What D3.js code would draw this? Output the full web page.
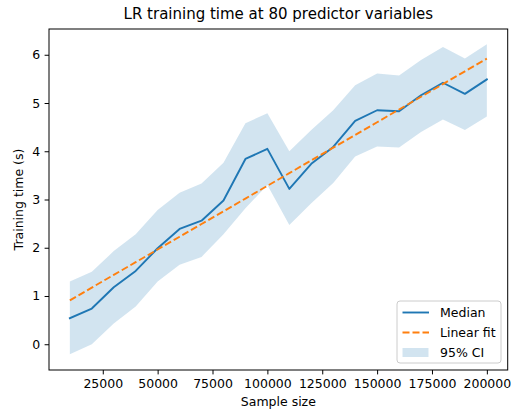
<!DOCTYPE html>
<html>
<head>
<meta charset="utf-8">
<script src="https://cdn.jsdelivr.net/npm/d3@7"></script>
<style>
  html, body { margin: 0; padding: 0; background: #fff; }
  svg { display: block; font-family: "DejaVu Sans", sans-serif; }
</style>
</head>
<body>
<svg id="chart" width="516" height="413"></svg>
<script>
// Sample sizes used in the benchmark
const sampleSizes = [10000, 20000, 30000, 40000, 50000, 60000, 70000, 80000, 90000, 100000,
                     110000, 120000, 130000, 140000, 150000, 160000, 170000, 180000, 190000, 200000];
// Median training time (s) across runs
const medianTime = [0.54, 0.74, 1.18, 1.52, 1.99, 2.39, 2.56, 2.98, 3.84, 4.05,
                    3.22, 3.74, 4.09, 4.63, 4.85, 4.83, 5.16, 5.42, 5.19, 5.49];
// 95% confidence interval bounds (s)
const ciLower = [-0.21, 0.00, 0.43, 0.78, 1.30, 1.65, 1.81, 2.28, 2.82, 3.30,
                 2.47, 2.92, 3.34, 3.89, 4.10, 4.08, 4.40, 4.66, 4.44, 4.72];
const ciUpper = [1.30, 1.50, 1.93, 2.28, 2.78, 3.14, 3.33, 3.76, 4.58, 4.79,
                 4.00, 4.44, 4.85, 5.37, 5.61, 5.57, 5.89, 6.16, 5.92, 6.22];
// Linear fit of the median: [intercept, slope]
const fitCoef = [0.646, 2.637e-5];
// Axis ticks
const xTicks = [25000, 50000, 75000, 100000, 125000, 150000, 175000, 200000];
const yTicks = [0, 1, 2, 3, 4, 5, 6];

const blue = "#1f77b4", orange = "#ff7f0e";
const svg = d3.select("#chart");
const plotLeft = 49, plotRight = 507.7, plotTop = 29, plotBottom = 370;

const x = d3.scaleLinear().domain([500, 209500]).range([plotLeft, plotRight]);
const y = d3.scaleLinear().domain([-0.534, 6.534]).range([plotBottom, plotTop]);

const rows = sampleSizes.map((s, i) => ({ s, med: medianTime[i], lo: ciLower[i], hi: ciUpper[i] }));

// confidence band
svg.append("path")
  .datum(rows)
  .attr("fill", blue).attr("fill-opacity", 0.2)
  .attr("d", d3.area().x(d => x(d.s)).y0(d => y(d.lo)).y1(d => y(d.hi)));

// median line
svg.append("path")
  .datum(rows)
  .attr("fill", "none").attr("stroke", blue).attr("stroke-width", 1.9)
  .attr("stroke-linejoin", "round").attr("stroke-linecap", "square")
  .attr("d", d3.line().x(d => x(d.s)).y(d => y(d.med)));

// linear fit
svg.append("path")
  .datum(sampleSizes)
  .attr("fill", "none").attr("stroke", orange).attr("stroke-width", 1.9)
  .attr("stroke-dasharray", "7,3")
  .attr("d", d3.line().x(d => x(d)).y(d => y(fitCoef[0] + fitCoef[1] * d)));

// axes
const xAxis = svg.append("g").attr("transform", `translate(0,${plotBottom})`)
  .call(d3.axisBottom(x).tickValues(xTicks).tickFormat(d3.format("d")).tickSize(4.4).tickPadding(4.5));
const yAxis = svg.append("g").attr("transform", `translate(${plotLeft},0)`)
  .call(d3.axisLeft(y).tickValues(yTicks).tickFormat(d3.format("d")).tickSize(4.4).tickPadding(4.5));
[xAxis, yAxis].forEach(g => {
  g.select(".domain").remove();
  g.selectAll("line").attr("stroke", "#000").attr("stroke-width", 1);
  g.selectAll("text").attr("fill", "#000").style("font-size", "12.5px").style("font-family", "DejaVu Sans");
});

// frame
svg.append("rect").attr("x", plotLeft).attr("y", plotTop)
  .attr("width", plotRight - plotLeft).attr("height", plotBottom - plotTop)
  .attr("fill", "none").attr("stroke", "#000").attr("stroke-width", 1);

// titles
svg.append("text").attr("x", (plotLeft + plotRight) / 2).attr("y", 19)
  .attr("text-anchor", "middle").style("font-size", "15px").text("LR training time at 80 predictor variables");
svg.append("text").attr("x", (plotLeft + plotRight) / 2).attr("y", 406)
  .attr("text-anchor", "middle").style("font-size", "12.5px").text("Sample size");
svg.append("text").attr("transform", `translate(23,${(plotTop + plotBottom) / 2}) rotate(-90)`)
  .attr("text-anchor", "middle").style("font-size", "12.5px").text("Training time (s)");

// legend
const lg = svg.append("g").attr("transform", "translate(397,301)");
lg.append("rect").attr("width", 104).attr("height", 62).attr("rx", 3)
  .attr("fill", "#fff").attr("fill-opacity", 0.8).attr("stroke", "#ccc").attr("stroke-width", 1);
const items = [
  { label: "Median", kind: "line" },
  { label: "Linear fit", kind: "dash" },
  { label: "95% CI", kind: "patch" }
];
items.forEach((it, i) => {
  const cy = 11.5 + i * 20;
  if (it.kind === "patch") {
    lg.append("rect").attr("x", 5.5).attr("y", cy - 4.5).attr("width", 26).attr("height", 9)
      .attr("fill", blue).attr("fill-opacity", 0.2);
  } else {
    lg.append("line").attr("x1", 5.5).attr("x2", 32).attr("y1", cy).attr("y2", cy)
      .attr("stroke", it.kind === "line" ? blue : orange).attr("stroke-width", 1.9)
      .attr("stroke-dasharray", it.kind === "dash" ? "7,3" : null);
  }
  lg.append("text").attr("x", 43).attr("y", cy + 4.5).style("font-size", "12.5px").text(it.label);
});
</script>
</body>
</html>
